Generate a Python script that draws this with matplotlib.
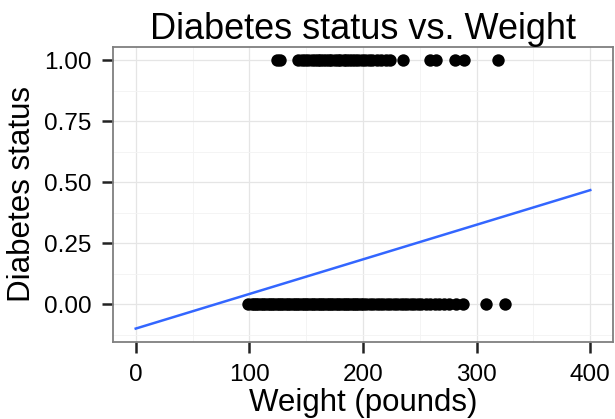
import numpy as np
import matplotlib.pyplot as plt
from matplotlib.ticker import MultipleLocator

plt.rcParams['font.family'] = ['Liberation Sans', 'DejaVu Sans']

# weights (pounds) of people with / without diabetes
weight_diabetic = [124, 127, 143, 146, 149, 152, 155, 158, 160, 162, 165, 167,
                   170, 172, 175, 178, 180, 183, 185, 188, 190, 193, 196, 199,
                   202, 205, 208, 212, 216, 220, 224, 235, 259, 264, 281, 289, 319]
weight_healthy = [99, 102, 104, 106, 108, 110, 112, 114, 116, 118, 120, 122, 124,
                  126, 128, 130, 132, 134, 136, 138, 140, 142, 144, 146, 148, 150,
                  152, 154, 156, 158, 160, 162, 164, 166, 168, 170, 172, 174, 176,
                  178, 180, 182, 184, 186, 188, 190, 192, 194, 196, 198, 200, 203,
                  206, 209, 212, 215, 218, 221, 224, 227, 230, 233, 236, 239, 242,
                  245, 248, 251, 255, 259, 263, 267, 271, 276, 282, 288, 308, 325]

# linear fit shown as the blue line
fit_intercept = -0.100
fit_slope = 0.00142
fit_x = [0, 400]

y_ticks = [0, 0.25, 0.5, 0.75, 1.0]
y_ticklabels = ['0.00', '0.25', '0.50', '0.75', '1.00']

fig = plt.figure(figsize=(6.15, 4.19), dpi=100)
ax = fig.add_axes([113 / 615, 1 - 342 / 419, 500 / 615, 295 / 419])

ax.scatter(weight_diabetic, np.ones(len(weight_diabetic)), s=80, color='black',
           linewidths=0, zorder=3)
ax.scatter(weight_healthy, np.zeros(len(weight_healthy)), s=80, color='black',
           linewidths=0, zorder=3)
fit_y = [fit_intercept + fit_slope * x for x in fit_x]
ax.plot(fit_x, fit_y, color='#3366FF', linewidth=1.8, zorder=2)

ax.set_xlim(-20, 420)
ax.set_ylim(-0.155, 1.055)
ax.xaxis.set_major_locator(MultipleLocator(100))
ax.xaxis.set_minor_locator(MultipleLocator(50))
ax.set_yticks(y_ticks)
ax.set_yticklabels(y_ticklabels)
ax.yaxis.set_minor_locator(MultipleLocator(0.125))

ax.grid(which='major', color='#e5e5e5', linewidth=0.9)
ax.grid(which='minor', color='#f3f3f3', linewidth=0.6)
ax.set_axisbelow(True)
for s in ax.spines.values():
    s.set_color('#7f7f7f')
    s.set_linewidth(1.3)
ax.tick_params(which='major', length=8, width=1.8, color='#222222',
               labelsize=17.5, labelcolor='black', pad=7.5)
ax.tick_params(which='minor', length=0)

ax.set_title('Diabetes status vs. Weight', fontsize=26, pad=4)
ax.set_xlabel('Weight (pounds)', fontsize=22.5, labelpad=2)
ax.set_ylabel('Diabetes status', fontsize=22.5, labelpad=5)

fig.savefig('out.png', dpi=100)
